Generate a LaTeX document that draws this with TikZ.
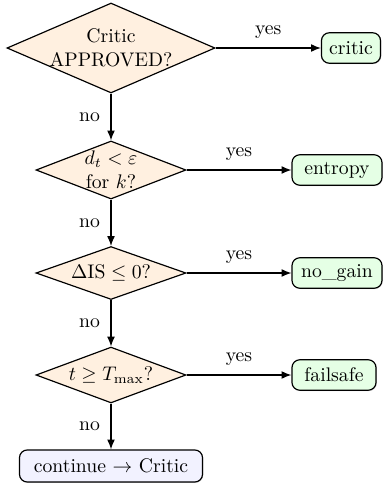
\documentclass[tikz,border=0pt]{standalone}
\usetikzlibrary{shapes.geometric,arrows.meta,shadows}
\begin{document}
\begin{tikzpicture}[x=0.508pt,y=-0.508pt,
  dec/.style={diamond,draw=black,fill=orange!12,line width=0.6pt,inner sep=-1pt,align=center},
  outbox/.style={rectangle,rounded corners=4pt,draw=black,fill=green!10,line width=0.6pt,inner sep=2pt,minimum height=15.5pt,drop shadow={shadow xshift=0.4pt,shadow yshift=-0.4pt,opacity=0.35}},
  contbox/.style={outbox,fill=blue!5},
  flow/.style={-{Latex[length=5pt,width=4pt]},line width=0.6pt}]
\useasboundingbox (0,0) rectangle (385,485);
\node[dec,aspect=2.3,minimum width=105.7pt,minimum height=45.7pt] (d1) at (111,48) {Critic\\APPROVED?};
\node[dec,aspect=2.6,minimum width=76.2pt,minimum height=29.5pt,inner ysep=-1.5pt] (d2) at (111,170) {$d_t<\varepsilon$\\for $k$?};
\node[dec,aspect=2.8,minimum width=76.2pt,minimum height=26.9pt] (d3) at (111,273) {$\Delta\mathrm{IS}\le 0$?};
\node[dec,aspect=2.7,minimum width=76.2pt,minimum height=28.4pt] (d4) at (111,375) {$t\ge T_{\max}$?};
\node[outbox,minimum width=30pt] (o1) at (351,48) {critic};
\node[outbox,minimum width=45.7pt] (o2) at (337,170) {entropy};
\node[outbox,minimum width=45.7pt] (o3) at (337,273) {no\_gain};
\node[outbox,minimum width=42.7pt] (o4) at (334,375) {failsafe};
\node[contbox,minimum width=93pt,minimum height=16.3pt] (c) at (111,466) {continue $\rightarrow$ Critic};
\draw[flow] (d1) -- node[above=1pt]{yes} (o1);
\draw[flow] (d2) -- node[above=1pt]{yes} (o2);
\draw[flow] (d3) -- node[above=1pt]{yes} (o3);
\draw[flow] (d4) -- node[above=1pt]{yes} (o4);
\draw[flow] (d1) -- node[left=2pt]{no} (d2);
\draw[flow] (d2) -- node[left=2pt]{no} (d3);
\draw[flow] (d3) -- node[left=2pt]{no} (d4);
\draw[flow] (d4) -- node[left=2pt]{no} (c);
\end{tikzpicture}
\end{document}
